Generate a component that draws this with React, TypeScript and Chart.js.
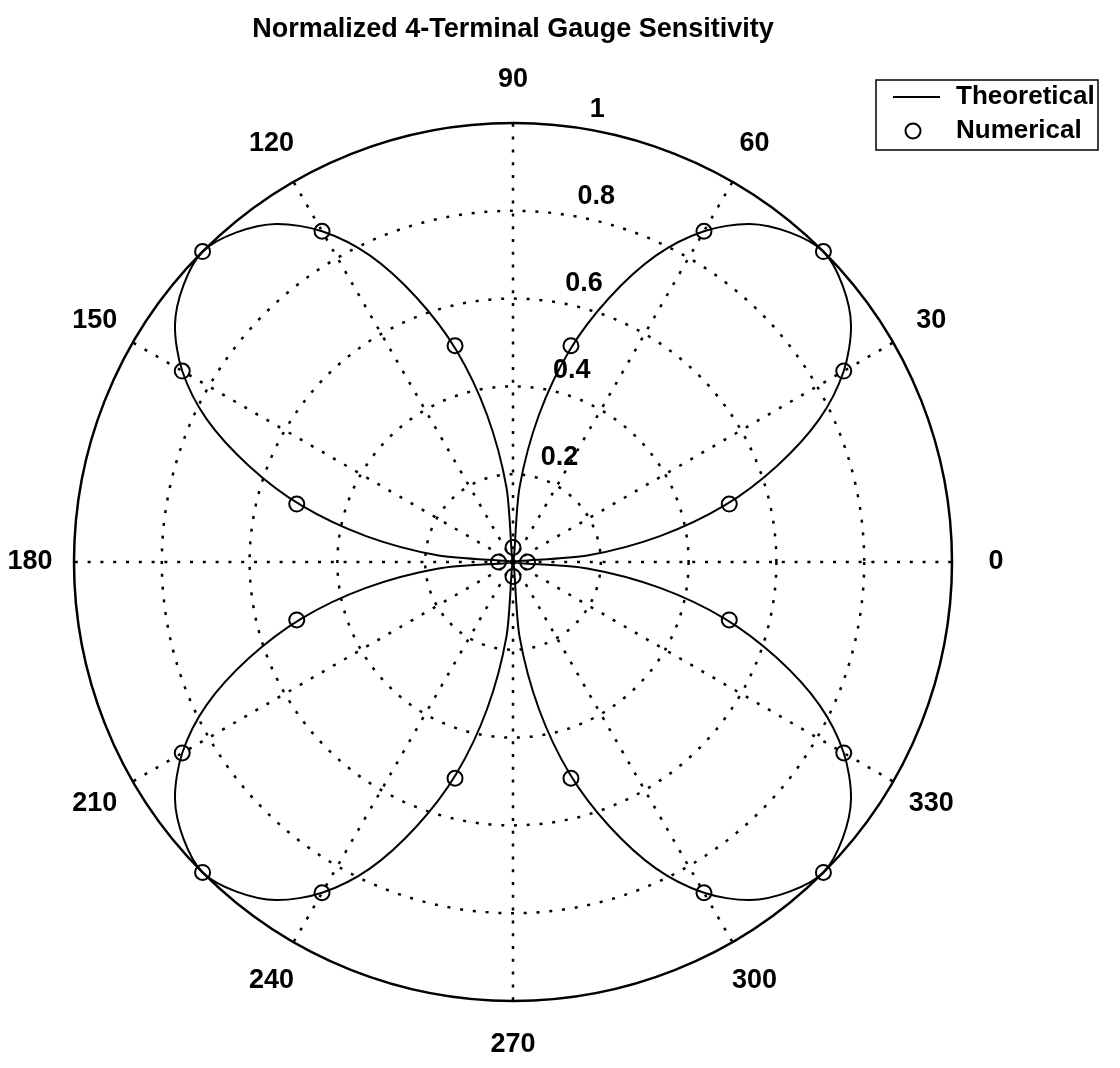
import React, { useEffect, useRef } from 'react';
import { Chart, registerables } from 'chart.js';

Chart.register(...registerables);

// ---------- data ----------
const TITLE = 'Normalized 4-Terminal Gauge Sensitivity';

// theoretical curve, sampled every 5 degrees (0..355), counter-clockwise from east
const THEORY_STEP = 5;
const THEORETICAL = [
  0.0, 0.17, 0.34, 0.5, 0.64, 0.77, 0.87, 0.94, 0.98, 1.0, 0.98, 0.94, 0.87, 0.77, 0.64, 0.5, 0.34, 0.17,
  0.0, 0.17, 0.34, 0.5, 0.64, 0.77, 0.87, 0.94, 0.98, 1.0, 0.98, 0.94, 0.87, 0.77, 0.64, 0.5, 0.34, 0.17,
  0.0, 0.17, 0.34, 0.5, 0.64, 0.77, 0.87, 0.94, 0.98, 1.0, 0.98, 0.94, 0.87, 0.77, 0.64, 0.5, 0.34, 0.17,
  0.0, 0.17, 0.34, 0.5, 0.64, 0.77, 0.87, 0.94, 0.98, 1.0, 0.98, 0.94, 0.87, 0.77, 0.64, 0.5, 0.34, 0.17,
];

// numerical results, every 15 degrees
const NUMERICAL_ANGLES = [0, 15, 30, 45, 60, 75, 90, 105, 120, 135, 150, 165, 180, 195, 210, 225, 240, 255, 270, 285, 300, 315, 330, 345];
const NUMERICAL = [
  0.033, 0.51, 0.87, 1.0, 0.87, 0.51,
  0.033, 0.51, 0.87, 1.0, 0.87, 0.51,
  0.033, 0.51, 0.87, 1.0, 0.87, 0.51,
  0.033, 0.51, 0.87, 1.0, 0.87, 0.51,
];

const ANGLE_TICKS = [0, 30, 60, 90, 120, 150, 180, 210, 240, 270, 300, 330];
const RADIAL_TICKS = [0.2, 0.4, 0.6, 0.8, 1];
const RADIAL_TICK_LABELS = ['0.2', '0.4', '0.6', '0.8', '1'];
const SERIES_LABELS = ['Theoretical', 'Numerical'];

// ---------- layout / style ----------
const W = 1120;
const H = 1068;
const CX = 513;
const CY = 562;
const RADIUS = 439;
const FONT = 'bold 27px "Liberation Sans", Arial, sans-serif';
const LEGEND_FONT = 'bold 26px "Liberation Sans", Arial, sans-serif';
const DOTS = [3, 9.8];
const LEGEND = { x: 876, y: 80, w: 222, h: 70 };

const theoryAngles = THEORETICAL.map((_, i) => i * THEORY_STEP);
// radar index i (clockwise from east) -> math angle (ccw from east)
const radarAngles = theoryAngles.map((_, i) => (360 - i * THEORY_STEP) % 360);
const radarIndexOf = (deg: number) => radarAngles.indexOf(((deg % 360) + 360) % 360);

const polarDecor = {
  id: 'polarDecor',
  afterDraw(chart: any) {
    const ctx = chart.ctx as CanvasRenderingContext2D;
    const s = chart.scales.r;
    ctx.save();
    ctx.fillStyle = '#000';
    ctx.font = FONT;

    // title
    ctx.textAlign = 'center';
    ctx.textBaseline = 'middle';
    ctx.fillText(TITLE, s.xCenter, 30);

    // angle labels at 1.1 * rmax
    ANGLE_TICKS.forEach((a) => {
      const p = s.getPointPositionForValue(radarIndexOf(a), 1.1);
      ctx.fillText(String(a), p.x, p.y);
    });

    // radial tick labels along 82 degrees
    ctx.textAlign = 'left';
    ctx.textBaseline = 'bottom';
    const ang = (82 * Math.PI) / 180;
    RADIAL_TICKS.forEach((v, k) => {
      const d = s.getDistanceFromCenterForValue(v + 0.01);
      const x = s.xCenter + d * Math.cos(ang);
      const y = s.yCenter - d * Math.sin(ang);
      ctx.fillText('  ' + RADIAL_TICK_LABELS[k], x, y);
    });

    // legend
    const L = LEGEND;
    ctx.fillStyle = '#fff';
    ctx.fillRect(L.x, L.y, L.w, L.h);
    ctx.strokeStyle = '#000';
    ctx.lineWidth = 1.5;
    ctx.strokeRect(L.x, L.y, L.w, L.h);
    const ds = chart.data.datasets;
    const row1 = L.y + 17;
    const row2 = L.y + 51;
    ctx.lineWidth = ds[0].borderWidth;
    ctx.beginPath();
    ctx.moveTo(L.x + 17, row1);
    ctx.lineTo(L.x + 64, row1);
    ctx.stroke();
    ctx.lineWidth = ds[1].pointBorderWidth;
    ctx.beginPath();
    ctx.arc(L.x + 37, row2, ds[1].pointRadius, 0, Math.PI * 2);
    ctx.stroke();
    ctx.fillStyle = '#000';
    ctx.font = LEGEND_FONT;
    ctx.textAlign = 'left';
    ctx.textBaseline = 'middle';
    ctx.fillText(ds[0].label, L.x + 80, row1);
    ctx.fillText(ds[1].label, L.x + 80, row2);
    ctx.restore();
  },
};

export default function App() {
  const ref = useRef<HTMLCanvasElement | null>(null);

  useEffect(() => {
    if (!ref.current) return;
    const theoryData = radarAngles.map((a) => THEORETICAL[theoryAngles.indexOf(a)]);
    const numData = radarAngles.map((a) => {
      const k = NUMERICAL_ANGLES.indexOf(a);
      return k >= 0 ? NUMERICAL[k] : null;
    });
    const chart = new Chart(ref.current, {
      type: 'radar',
      data: {
        labels: radarAngles.map(String),
        datasets: [
          {
            label: SERIES_LABELS[0],
            data: theoryData,
            borderColor: '#000',
            backgroundColor: 'rgba(0,0,0,0)',
            borderWidth: 2,
            pointRadius: 0,
            pointHoverRadius: 0,
            fill: false,
            tension: 0.3,
            clip: false,
          } as any,
          {
            label: SERIES_LABELS[1],
            data: numData,
            showLine: false,
            borderColor: '#000',
            backgroundColor: 'rgba(0,0,0,0)',
            pointStyle: 'circle',
            pointRadius: 7.5,
            pointHoverRadius: 7.5,
            pointBorderWidth: 2,
            pointBorderColor: '#000',
            pointBackgroundColor: 'rgba(0,0,0,0)',
            fill: false,
            clip: false,
          } as any,
        ],
      },
      options: {
        responsive: false,
        devicePixelRatio: 1,
        animation: false,
        events: [],
        layout: { padding: 0 },
        plugins: {
          legend: { display: false },
          tooltip: { enabled: false },
          title: { display: false },
        },
        scales: {
          r: {
            min: 0,
            max: 1,
            startAngle: 90,
            ticks: { display: false, stepSize: 0.2 },
            pointLabels: { display: false },
            grid: {
              circular: true,
              color: '#000',
              lineWidth: 2.5,
            },
            border: {
              dash: (c: any) => (c.tick && c.tick.value >= 1 ? [] : DOTS),
            },
            angleLines: {
              display: true,
              color: '#000',
              lineWidth: (c: any) => (ANGLE_TICKS.includes(Number(c.label)) ? 2.5 : 0),
              borderDash: DOTS,
            },
            afterFit: (s: any) => {
              s.xCenter = CX;
              s.yCenter = CY;
              s.drawingArea = RADIUS;
            },
          } as any,
        },
      } as any,
      plugins: [polarDecor],
    });
    return () => chart.destroy();
  }, []);

  return (
    <div style={{ position: 'fixed', left: 0, top: 0, width: W, height: H, background: '#fff' }}>
      <canvas ref={ref} width={W} height={H} style={{ width: W, height: H, display: 'block' }} />
    </div>
  );
}
